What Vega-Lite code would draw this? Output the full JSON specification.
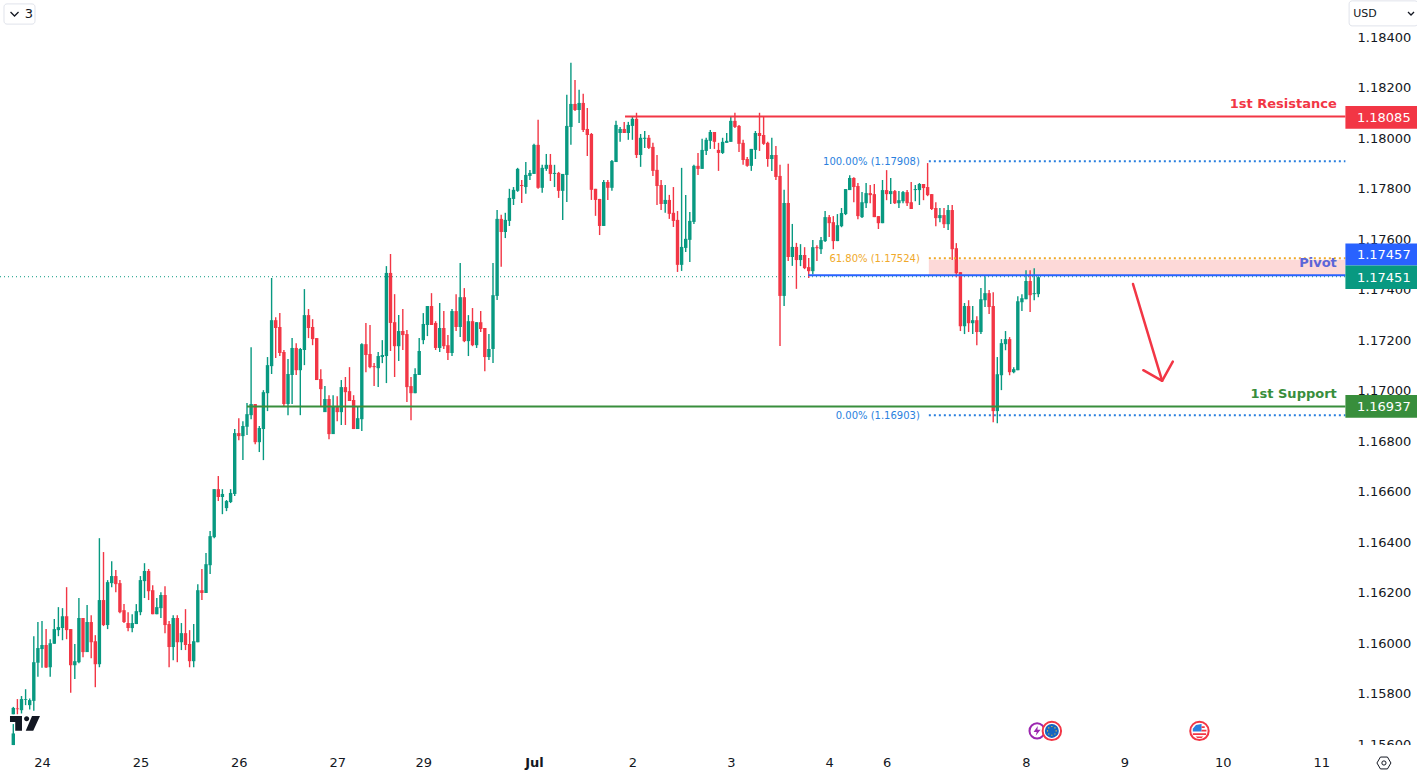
{
"$schema":"https://vega.github.io/schema/vega-lite/v6.json",
"description":"EUR/USD hourly candles with pivot, resistance, support and fibonacci levels",
"width":1345,"height":745,"padding":{"left":0,"top":0,"right":72,"bottom":34},"autosize":{"type":"none"},"background":"#ffffff",
"config":{"view":{"stroke":null},"axis":{"grid":false,"domain":false,"ticks":false,"title":null,"labelFont":"DejaVu Sans","labelFontSize":13,"labelColor":"#131722"}},
"datasets":{
"candles":[
{"t":0,"open":1.15597,"close":1.15643,"high":1.15680,"low":1.15597},
{"t":0,"open":1.15719,"close":1.15744,"high":1.15748,"low":1.15719},
{"t":1,"open":1.15742,"close":1.15739,"high":1.15779,"low":1.15719},
{"t":2,"open":1.15735,"close":1.15779,"high":1.15791,"low":1.15722},
{"t":3,"open":1.15776,"close":1.15779,"high":1.15818,"low":1.15755},
{"t":4,"open":1.15755,"close":1.15775,"high":1.15781,"low":1.15738},
{"t":5,"open":1.15772,"close":1.15925,"high":1.16028,"low":1.15733},
{"t":6,"open":1.15923,"close":1.15981,"high":1.16084,"low":1.15867},
{"t":7,"open":1.15977,"close":1.15993,"high":1.16088,"low":1.15903},
{"t":8,"open":1.15993,"close":1.15904,"high":1.16056,"low":1.15902},
{"t":9,"open":1.15905,"close":1.16000,"high":1.16016,"low":1.15867},
{"t":10,"open":1.15998,"close":1.16056,"high":1.16096,"low":1.15998},
{"t":11,"open":1.16052,"close":1.16064,"high":1.16143,"low":1.16028},
{"t":12,"open":1.16060,"close":1.16107,"high":1.16139,"low":1.16012},
{"t":13,"open":1.16107,"close":1.16052,"high":1.16222,"low":1.16016},
{"t":14,"open":1.16056,"close":1.15913,"high":1.16056,"low":1.15804},
{"t":15,"open":1.15913,"close":1.15929,"high":1.15997,"low":1.15858},
{"t":16,"open":1.15925,"close":1.16100,"high":1.16179,"low":1.15921},
{"t":17,"open":1.16100,"close":1.15965,"high":1.16100,"low":1.15945},
{"t":18,"open":1.15965,"close":1.16084,"high":1.16151,"low":1.15965},
{"t":19,"open":1.16084,"close":1.16004,"high":1.16111,"low":1.15941},
{"t":20,"open":1.16008,"close":1.15917,"high":1.16032,"low":1.15826},
{"t":21,"open":1.15917,"close":1.16171,"high":1.16416,"low":1.15905},
{"t":22,"open":1.16171,"close":1.16072,"high":1.16361,"low":1.16068},
{"t":23,"open":1.16072,"close":1.16242,"high":1.16250,"low":1.16056},
{"t":24,"open":1.16238,"close":1.16266,"high":1.16325,"low":1.16222},
{"t":25,"open":1.16266,"close":1.16234,"high":1.16290,"low":1.16202},
{"t":26,"open":1.16238,"close":1.16123,"high":1.16250,"low":1.16119},
{"t":27,"open":1.16131,"close":1.16084,"high":1.16155,"low":1.16080},
{"t":28,"open":1.16080,"close":1.16060,"high":1.16123,"low":1.16048},
{"t":29,"open":1.16060,"close":1.16080,"high":1.16115,"low":1.16044},
{"t":30,"open":1.16076,"close":1.16127,"high":1.16155,"low":1.16076},
{"t":31,"open":1.16123,"close":1.16250,"high":1.16266,"low":1.16111},
{"t":32,"open":1.16246,"close":1.16286,"high":1.16317,"low":1.16179},
{"t":33,"open":1.16286,"close":1.16206,"high":1.16294,"low":1.16171},
{"t":34,"open":1.16210,"close":1.16115,"high":1.16230,"low":1.16115},
{"t":35,"open":1.16115,"close":1.16143,"high":1.16179,"low":1.16115},
{"t":36,"open":1.16139,"close":1.16191,"high":1.16202,"low":1.16100},
{"t":37,"open":1.16191,"close":1.16072,"high":1.16226,"low":1.16040},
{"t":38,"open":1.16076,"close":1.15985,"high":1.16088,"low":1.15905},
{"t":39,"open":1.15985,"close":1.16100,"high":1.16111,"low":1.15933},
{"t":40,"open":1.16100,"close":1.16004,"high":1.16111,"low":1.15925},
{"t":41,"open":1.16004,"close":1.16040,"high":1.16080,"low":1.15973},
{"t":42,"open":1.16040,"close":1.15993,"high":1.16135,"low":1.15973},
{"t":43,"open":1.15997,"close":1.15929,"high":1.16052,"low":1.15905},
{"t":44,"open":1.15929,"close":1.16008,"high":1.16076,"low":1.15905},
{"t":45,"open":1.16004,"close":1.16210,"high":1.16234,"low":1.16004},
{"t":46,"open":1.16210,"close":1.16199,"high":1.16294,"low":1.16171},
{"t":47,"open":1.16199,"close":1.16313,"high":1.16357,"low":1.16199},
{"t":48,"open":1.16309,"close":1.16424,"high":1.16444,"low":1.16274},
{"t":49,"open":1.16420,"close":1.16610,"high":1.16610,"low":1.16416},
{"t":50,"open":1.16610,"close":1.16579,"high":1.16662,"low":1.16563},
{"t":51,"open":1.16579,"close":1.16591,"high":1.16610,"low":1.16511},
{"t":52,"open":1.16535,"close":1.16563,"high":1.16567,"low":1.16523},
{"t":53,"open":1.16559,"close":1.16595,"high":1.16610,"low":1.16555},
{"t":54,"open":1.16591,"close":1.16832,"high":1.16848,"low":1.16583},
{"t":55,"open":1.16832,"close":1.16820,"high":1.16891,"low":1.16804},
{"t":56,"open":1.16820,"close":1.16860,"high":1.16879,"low":1.16725},
{"t":57,"open":1.16857,"close":1.16907,"high":1.16951,"low":1.16824},
{"t":58,"open":1.16903,"close":1.16947,"high":1.17172,"low":1.16887},
{"t":59,"open":1.16947,"close":1.16796,"high":1.16947,"low":1.16788},
{"t":60,"open":1.16796,"close":1.16852,"high":1.16860,"low":1.16757},
{"t":61,"open":1.16848,"close":1.16994,"high":1.17002,"low":1.16725},
{"t":62,"open":1.16990,"close":1.17101,"high":1.17133,"low":1.16919},
{"t":63,"open":1.17097,"close":1.17279,"high":1.17446,"low":1.17066},
{"t":64,"open":1.17279,"close":1.17248,"high":1.17291,"low":1.17129},
{"t":65,"open":1.17252,"close":1.17149,"high":1.17307,"low":1.17137},
{"t":66,"open":1.17153,"close":1.16947,"high":1.17161,"low":1.16939},
{"t":67,"open":1.16947,"close":1.17066,"high":1.17125,"low":1.16903},
{"t":68,"open":1.17062,"close":1.17169,"high":1.17208,"low":1.16947},
{"t":69,"open":1.17169,"close":1.17081,"high":1.17188,"low":1.17062},
{"t":70,"open":1.17081,"close":1.17165,"high":1.17169,"low":1.16903},
{"t":71,"open":1.17161,"close":1.17299,"high":1.17402,"low":1.17101},
{"t":72,"open":1.17299,"close":1.17248,"high":1.17323,"low":1.17208},
{"t":73,"open":1.17252,"close":1.17204,"high":1.17283,"low":1.17180},
{"t":74,"open":1.17208,"close":1.17042,"high":1.17208,"low":1.17042},
{"t":75,"open":1.17046,"close":1.17006,"high":1.17085,"low":1.16939},
{"t":76,"open":1.16915,"close":1.16967,"high":1.17018,"low":1.16915},
{"t":77,"open":1.16967,"close":1.16828,"high":1.16982,"low":1.16808},
{"t":78,"open":1.16828,"close":1.16939,"high":1.16982,"low":1.16828},
{"t":79,"open":1.16935,"close":1.16915,"high":1.16978,"low":1.16879},
{"t":80,"open":1.16915,"close":1.17014,"high":1.17042,"low":1.16864},
{"t":81,"open":1.17014,"close":1.16994,"high":1.17054,"low":1.16864},
{"t":82,"open":1.16998,"close":1.16959,"high":1.17093,"low":1.16959},
{"t":83,"open":1.16963,"close":1.16848,"high":1.16982,"low":1.16848},
{"t":84,"open":1.16848,"close":1.16891,"high":1.16939,"low":1.16848},
{"t":85,"open":1.16887,"close":1.17184,"high":1.17188,"low":1.16840},
{"t":86,"open":1.17184,"close":1.17141,"high":1.17268,"low":1.17073},
{"t":87,"open":1.17145,"close":1.17093,"high":1.17260,"low":1.17089},
{"t":88,"open":1.17097,"close":1.17093,"high":1.17109,"low":1.17018},
{"t":89,"open":1.17089,"close":1.17137,"high":1.17153,"low":1.17014},
{"t":90,"open":1.17133,"close":1.17141,"high":1.17200,"low":1.17109},
{"t":91,"open":1.17137,"close":1.17466,"high":1.17493,"low":1.17030},
{"t":92,"open":1.17466,"close":1.17268,"high":1.17541,"low":1.17157},
{"t":93,"open":1.17271,"close":1.17176,"high":1.17382,"low":1.17054},
{"t":94,"open":1.17176,"close":1.17236,"high":1.17299,"low":1.17117},
{"t":95,"open":1.17236,"close":1.17220,"high":1.17323,"low":1.17161},
{"t":96,"open":1.17224,"close":1.17014,"high":1.17240,"low":1.16955},
{"t":97,"open":1.17018,"close":1.16990,"high":1.17054,"low":1.16883},
{"t":98,"open":1.16990,"close":1.17066,"high":1.17089,"low":1.16990},
{"t":99,"open":1.17062,"close":1.17157,"high":1.17208,"low":1.17062},
{"t":100,"open":1.17200,"close":1.17264,"high":1.17307,"low":1.17184},
{"t":101,"open":1.17260,"close":1.17335,"high":1.17335,"low":1.17216},
{"t":102,"open":1.17335,"close":1.17260,"high":1.17386,"low":1.17260},
{"t":103,"open":1.17268,"close":1.17169,"high":1.17275,"low":1.17161},
{"t":104,"open":1.17169,"close":1.17248,"high":1.17347,"low":1.17153},
{"t":105,"open":1.17248,"close":1.17176,"high":1.17315,"low":1.17165},
{"t":106,"open":1.17180,"close":1.17149,"high":1.17220,"low":1.17121},
{"t":107,"open":1.17149,"close":1.17315,"high":1.17323,"low":1.17137},
{"t":108,"open":1.17315,"close":1.17252,"high":1.17382,"low":1.17236},
{"t":109,"open":1.17252,"close":1.17370,"high":1.17505,"low":1.17212},
{"t":110,"open":1.17370,"close":1.17196,"high":1.17406,"low":1.17192},
{"t":111,"open":1.17196,"close":1.17275,"high":1.17299,"low":1.17137},
{"t":112,"open":1.17275,"close":1.17180,"high":1.17327,"low":1.17176},
{"t":113,"open":1.17180,"close":1.17271,"high":1.17271,"low":1.17169},
{"t":114,"open":1.17271,"close":1.17244,"high":1.17315,"low":1.17232},
{"t":115,"open":1.17248,"close":1.17133,"high":1.17248,"low":1.17077},
{"t":116,"open":1.17133,"close":1.17165,"high":1.17224,"low":1.17121},
{"t":117,"open":1.17165,"close":1.17378,"high":1.17505,"low":1.17109},
{"t":118,"open":1.17375,"close":1.17680,"high":1.17715,"low":1.17359},
{"t":119,"open":1.17680,"close":1.17628,"high":1.17696,"low":1.17490},
{"t":120,"open":1.17628,"close":1.17676,"high":1.17704,"low":1.17604},
{"t":121,"open":1.17672,"close":1.17763,"high":1.17799,"low":1.17652},
{"t":122,"open":1.17759,"close":1.17795,"high":1.17806,"low":1.17735},
{"t":123,"open":1.17791,"close":1.17878,"high":1.17882,"low":1.17787},
{"t":124,"open":1.17814,"close":1.17810,"high":1.17834,"low":1.17743},
{"t":125,"open":1.17806,"close":1.17854,"high":1.17905,"low":1.17779},
{"t":126,"open":1.17850,"close":1.17862,"high":1.17874,"low":1.17834},
{"t":127,"open":1.17858,"close":1.17973,"high":1.17977,"low":1.17858},
{"t":128,"open":1.17973,"close":1.17803,"high":1.18072,"low":1.17799},
{"t":129,"open":1.17803,"close":1.17882,"high":1.17894,"low":1.17783},
{"t":130,"open":1.17878,"close":1.17894,"high":1.17937,"low":1.17870},
{"t":131,"open":1.17894,"close":1.17858,"high":1.17937,"low":1.17830},
{"t":132,"open":1.17858,"close":1.17862,"high":1.17894,"low":1.17806},
{"t":133,"open":1.17862,"close":1.17791,"high":1.17866,"low":1.17763},
{"t":134,"open":1.17791,"close":1.17858,"high":1.17858,"low":1.17676},
{"t":135,"open":1.17854,"close":1.18048,"high":1.18171,"low":1.17747},
{"t":136,"open":1.18044,"close":1.18135,"high":1.18298,"low":1.17973},
{"t":137,"open":1.18135,"close":1.18111,"high":1.18230,"low":1.18107},
{"t":138,"open":1.18111,"close":1.18139,"high":1.18191,"low":1.18060},
{"t":139,"open":1.18139,"close":1.18032,"high":1.18175,"low":1.18024},
{"t":140,"open":1.18036,"close":1.18012,"high":1.18119,"low":1.17929},
{"t":141,"open":1.18016,"close":1.17795,"high":1.18020,"low":1.17755},
{"t":142,"open":1.17799,"close":1.17755,"high":1.17799,"low":1.17692},
{"t":143,"open":1.17759,"close":1.17652,"high":1.17759,"low":1.17616},
{"t":144,"open":1.17652,"close":1.17826,"high":1.17834,"low":1.17652},
{"t":145,"open":1.17826,"close":1.17803,"high":1.17834,"low":1.17755},
{"t":146,"open":1.17803,"close":1.17909,"high":1.17913,"low":1.17791},
{"t":147,"open":1.17905,"close":1.18052,"high":1.18068,"low":1.17905},
{"t":148,"open":1.18020,"close":1.18036,"high":1.18044,"low":1.17985},
{"t":149,"open":1.18036,"close":1.18020,"high":1.18064,"low":1.18020},
{"t":150,"open":1.18020,"close":1.18052,"high":1.18064,"low":1.17993},
{"t":151,"open":1.18048,"close":1.18076,"high":1.18084,"low":1.17993},
{"t":152,"open":1.18076,"close":1.17933,"high":1.18100,"low":1.17921},
{"t":153,"open":1.17933,"close":1.18001,"high":1.18016,"low":1.17886},
{"t":154,"open":1.17997,"close":1.18001,"high":1.18028,"low":1.17961},
{"t":155,"open":1.18001,"close":1.17961,"high":1.18012,"low":1.17957},
{"t":156,"open":1.17965,"close":1.17870,"high":1.17981,"low":1.17850},
{"t":157,"open":1.17874,"close":1.17810,"high":1.17933,"low":1.17735},
{"t":158,"open":1.17814,"close":1.17739,"high":1.17834,"low":1.17715},
{"t":159,"open":1.17739,"close":1.17755,"high":1.17814,"low":1.17704},
{"t":160,"open":1.17755,"close":1.17700,"high":1.17775,"low":1.17680},
{"t":161,"open":1.17704,"close":1.17672,"high":1.17806,"low":1.17648},
{"t":162,"open":1.17676,"close":1.17498,"high":1.17711,"low":1.17470},
{"t":163,"open":1.17498,"close":1.17569,"high":1.17882,"low":1.17474},
{"t":164,"open":1.17565,"close":1.17601,"high":1.17775,"low":1.17549},
{"t":165,"open":1.17597,"close":1.17672,"high":1.17707,"low":1.17509},
{"t":166,"open":1.17668,"close":1.17890,"high":1.17894,"low":1.17660},
{"t":167,"open":1.17890,"close":1.17878,"high":1.17941,"low":1.17854},
{"t":168,"open":1.17878,"close":1.17953,"high":1.17997,"low":1.17878},
{"t":169,"open":1.17949,"close":1.17993,"high":1.18001,"low":1.17933},
{"t":170,"open":1.17989,"close":1.18024,"high":1.18032,"low":1.17957},
{"t":171,"open":1.18024,"close":1.17985,"high":1.18024,"low":1.17957},
{"t":172,"open":1.17953,"close":1.17941,"high":1.17981,"low":1.17870},
{"t":173,"open":1.17941,"close":1.17985,"high":1.18001,"low":1.17937},
{"t":174,"open":1.17981,"close":1.17989,"high":1.18020,"low":1.17981},
{"t":175,"open":1.17985,"close":1.18068,"high":1.18084,"low":1.17985},
{"t":176,"open":1.18068,"close":1.18044,"high":1.18100,"low":1.18040},
{"t":177,"open":1.18048,"close":1.17977,"high":1.18052,"low":1.17945},
{"t":178,"open":1.17981,"close":1.17913,"high":1.17993,"low":1.17894},
{"t":179,"open":1.17917,"close":1.17890,"high":1.17925,"low":1.17886},
{"t":180,"open":1.17890,"close":1.17957,"high":1.17957,"low":1.17870},
{"t":181,"open":1.17953,"close":1.18020,"high":1.18028,"low":1.17917},
{"t":182,"open":1.18020,"close":1.18008,"high":1.18100,"low":1.17949},
{"t":183,"open":1.18012,"close":1.17977,"high":1.18084,"low":1.17973},
{"t":184,"open":1.17981,"close":1.17917,"high":1.17985,"low":1.17886},
{"t":185,"open":1.17917,"close":1.17933,"high":1.18001,"low":1.17870},
{"t":186,"open":1.17933,"close":1.17846,"high":1.17969,"low":1.17834},
{"t":187,"open":1.17850,"close":1.17375,"high":1.17894,"low":1.17177},
{"t":188,"open":1.17375,"close":1.17743,"high":1.17795,"low":1.17335},
{"t":189,"open":1.17743,"close":1.17529,"high":1.17898,"low":1.17513},
{"t":190,"open":1.17529,"close":1.17569,"high":1.17660,"low":1.17494},
{"t":191,"open":1.17569,"close":1.17517,"high":1.17585,"low":1.17403},
{"t":192,"open":1.17517,"close":1.17537,"high":1.17580,"low":1.17493},
{"t":193,"open":1.17537,"close":1.17485,"high":1.17568,"low":1.17481},
{"t":194,"open":1.17489,"close":1.17473,"high":1.17525,"low":1.17446},
{"t":195,"open":1.17473,"close":1.17568,"high":1.17596,"low":1.17461},
{"t":196,"open":1.17568,"close":1.17564,"high":1.17576,"low":1.17513},
{"t":197,"open":1.17560,"close":1.17596,"high":1.17608,"low":1.17541},
{"t":198,"open":1.17592,"close":1.17687,"high":1.17711,"low":1.17588},
{"t":199,"open":1.17687,"close":1.17663,"high":1.17695,"low":1.17608},
{"t":200,"open":1.17667,"close":1.17592,"high":1.17691,"low":1.17560},
{"t":201,"open":1.17592,"close":1.17655,"high":1.17699,"low":1.17592},
{"t":202,"open":1.17651,"close":1.17703,"high":1.17723,"low":1.17647},
{"t":203,"open":1.17699,"close":1.17798,"high":1.17798,"low":1.17695},
{"t":204,"open":1.17794,"close":1.17842,"high":1.17853,"low":1.17794},
{"t":205,"open":1.17842,"close":1.17806,"high":1.17845,"low":1.17746},
{"t":206,"open":1.17810,"close":1.17691,"high":1.17822,"low":1.17679},
{"t":207,"open":1.17687,"close":1.17746,"high":1.17786,"low":1.17683},
{"t":208,"open":1.17742,"close":1.17782,"high":1.17822,"low":1.17723},
{"t":209,"open":1.17782,"close":1.17774,"high":1.17814,"low":1.17742},
{"t":210,"open":1.17778,"close":1.17687,"high":1.17818,"low":1.17687},
{"t":211,"open":1.17691,"close":1.17663,"high":1.17691,"low":1.17640},
{"t":212,"open":1.17663,"close":1.17794,"high":1.17834,"low":1.17663},
{"t":213,"open":1.17794,"close":1.17778,"high":1.17873,"low":1.17754},
{"t":214,"open":1.17778,"close":1.17790,"high":1.17842,"low":1.17739},
{"t":215,"open":1.17790,"close":1.17742,"high":1.17794,"low":1.17739},
{"t":216,"open":1.17742,"close":1.17754,"high":1.17790,"low":1.17723},
{"t":217,"open":1.17750,"close":1.17786,"high":1.17790,"low":1.17742},
{"t":218,"open":1.17786,"close":1.17742,"high":1.17794,"low":1.17731},
{"t":219,"open":1.17746,"close":1.17719,"high":1.17826,"low":1.17719},
{"t":220,"open":1.17794,"close":1.17798,"high":1.17814,"low":1.17750},
{"t":221,"open":1.17794,"close":1.17818,"high":1.17822,"low":1.17735},
{"t":222,"open":1.17818,"close":1.17802,"high":1.17818,"low":1.17754},
{"t":223,"open":1.17806,"close":1.17774,"high":1.17901,"low":1.17770},
{"t":224,"open":1.17778,"close":1.17719,"high":1.17778,"low":1.17715},
{"t":225,"open":1.17723,"close":1.17683,"high":1.17746,"low":1.17651},
{"t":226,"open":1.17683,"close":1.17695,"high":1.17723,"low":1.17667},
{"t":227,"open":1.17695,"close":1.17659,"high":1.17723,"low":1.17644},
{"t":228,"open":1.17659,"close":1.17715,"high":1.17735,"low":1.17636},
{"t":229,"open":1.17715,"close":1.17560,"high":1.17735,"low":1.17517},
{"t":230,"open":1.17564,"close":1.17465,"high":1.17584,"low":1.17449},
{"t":231,"open":1.17469,"close":1.17255,"high":1.17469,"low":1.17236},
{"t":232,"open":1.17255,"close":1.17335,"high":1.17347,"low":1.17224},
{"t":233,"open":1.17335,"close":1.17267,"high":1.17358,"low":1.17232},
{"t":234,"open":1.17267,"close":1.17279,"high":1.17335,"low":1.17224},
{"t":235,"open":1.17279,"close":1.17232,"high":1.17295,"low":1.17180},
{"t":236,"open":1.17232,"close":1.17362,"high":1.17406,"low":1.17224},
{"t":237,"open":1.17358,"close":1.17386,"high":1.17453,"low":1.17331},
{"t":238,"open":1.17386,"close":1.17331,"high":1.17398,"low":1.17303},
{"t":239,"open":1.17335,"close":1.16919,"high":1.17390,"low":1.16875},
{"t":240,"open":1.16919,"close":1.17065,"high":1.17133,"low":1.16871},
{"t":241,"open":1.17061,"close":1.17188,"high":1.17204,"low":1.17002},
{"t":242,"open":1.17184,"close":1.17204,"high":1.17236,"low":1.17160},
{"t":243,"open":1.17204,"close":1.17073,"high":1.17212,"low":1.17061},
{"t":244,"open":1.17073,"close":1.17085,"high":1.17093,"low":1.17069},
{"t":245,"open":1.17081,"close":1.17354,"high":1.17374,"low":1.17081},
{"t":246,"open":1.17350,"close":1.17366,"high":1.17382,"low":1.17315},
{"t":247,"open":1.17362,"close":1.17434,"high":1.17477,"low":1.17362},
{"t":248,"open":1.17434,"close":1.17378,"high":1.17477,"low":1.17311},
{"t":249,"open":1.17382,"close":1.17386,"high":1.17485,"low":1.17358},
{"t":250,"open":1.17382,"close":1.17449,"high":1.17453,"low":1.17370}
],
"levels":[
{"level":"1st Resistance","price":1.18085,"t":149.2,"end":324.9},
{"level":"1st Support","price":1.16937,"t":57,"end":324.9},
{"level":"Pivot","price":1.17457,"t":193.9,"end":324.9}
],
"fibs":[
{"level":"100.00%","price":1.17908,"t":223.3,"end":324.9,"label":"100.00% (1.17908)"},
{"level":"61.80%","price":1.17524,"t":223.3,"end":324.9,"label":"61.80% (1.17524)"},
{"level":"0.00%","price":1.16903,"t":223.3,"end":324.9,"label":"0.00% (1.16903)"}
],
"names":[
{"level":"1st Resistance","price":1.18135,"t":322.8},
{"level":"Pivot","price":1.17505,"t":322.8},
{"level":"1st Support","price":1.16987,"t":322.8}
],
"badges":[
{"level":"1st Resistance","t":324.9,"end":342.6,"top":1.18127,"price":1.18037,"mid":1.18082,"value":"1.18085","textT":327.7},
{"level":"Pivot","t":324.9,"end":342.6,"top":1.17583,"price":1.17495,"mid":1.17539,"value":"1.17457","textT":327.7},
{"level":"Last","t":324.9,"end":342.6,"top":1.17495,"price":1.17402,"mid":1.17449,"value":"1.17451","textT":327.7},
{"level":"1st Support","t":324.9,"end":342.6,"top":1.16983,"price":1.16893,"mid":1.16938,"value":"1.16937","textT":327.7}
],
"arrow":[
{"part":"shaft","n":0,"t":273.1,"price":1.17422},
{"part":"shaft","n":1,"t":280.2,"price":1.17039},
{"part":"head","n":0,"t":275.6,"price":1.17081},
{"part":"head","n":1,"t":280.2,"price":1.17039},
{"part":"head","n":2,"t":282.8,"price":1.17115}
]
},
"encoding":{
"x":{"field":"t","type":"quantitative","scale":{"domain":[-3.244,324.8],"nice":false,"zero":false,"padding":0},
"axis":{"values":[7,31,55,79,100,127,151,175,199,213,247,271,295,319],"labelExpr":"{7:'24',31:'25',55:'26',79:'27',100:'29',127:'Jul',151:'2',175:'3',199:'4',213:'6',247:'8',271:'9',295:'10',319:'11'}[datum.value]","labelOverlap":false,"labelFlush":false,"labelPadding":11,"labelFontWeight":{"condition":{"test":"datum.value==127","value":"bold"},"value":"normal"}}},
"y":{"field":"price","type":"quantitative","scale":{"domain":[1.155972,1.185465],"nice":false,"zero":false},
"axis":{"orient":"right","values":[1.156,1.158,1.16,1.162,1.164,1.166,1.168,1.17,1.172,1.174,1.176,1.178,1.18,1.182,1.184],"format":".5f","labelOverlap":false,"labelFlush":false,"labelPadding":12}}
},
"layer":[
{"data":{"values":[{"t":223.3,"end":324.9,"price":1.17457,"top":1.17518}]},
"mark":{"type":"rect","color":"#fdd9d8"},
"encoding":{"x2":{"field":"end"},"y2":{"field":"top"}}},
{"data":{"values":[{"t":-3.244,"end":324.9,"price":1.17451}]},
"mark":{"type":"rule","color":"#089981","strokeWidth":1,"strokeDash":[1,3]},
"encoding":{"x2":{"field":"end"}}},
{"data":{"name":"candles"},
"mark":{"type":"rule","strokeWidth":1.4},
"encoding":{"y":{"field":"low","type":"quantitative"},"y2":{"field":"high"},
"color":{"condition":{"test":"datum.close>=datum.open","value":"#089981"},"value":"#f23645"}}},
{"data":{"name":"candles"},
"mark":{"type":"bar","size":3.4},
"encoding":{"y":{"field":"open","type":"quantitative"},"y2":{"field":"close"},
"color":{"condition":{"test":"datum.close>=datum.open","value":"#089981"},"value":"#f23645"}}},
{"data":{"name":"fibs"},
"mark":{"type":"rule","strokeWidth":2,"strokeDash":[2,3]},
"encoding":{"x2":{"field":"end"},"color":{"field":"level","type":"nominal","legend":null,"scale":{"domain":["100.00%","61.80%","0.00%","1st Resistance","1st Support","Pivot","Last"],"range":["#2a7fde","#f0a92a","#2a7fde","#f23645","#388e3c","#2962ff","#089981"]}}}},
{"data":{"name":"levels"},
"mark":{"type":"rule","strokeWidth":2},
"encoding":{"x2":{"field":"end"},"color":{"field":"level","type":"nominal","legend":null}}},
{"data":{"name":"arrow"},
"mark":{"type":"line","color":"#f23645","strokeWidth":2.5,"strokeCap":"round","strokeJoin":"round"},
"encoding":{"detail":{"field":"part"},"order":{"field":"n"}}},
{"data":{"name":"fibs"},
"mark":{"type":"text","align":"right","baseline":"middle","font":"DejaVu Sans","fontSize":10,"dx":-9,"dy":1},
"encoding":{"text":{"field":"label"},"color":{"field":"level","type":"nominal","legend":null}}},
{"data":{"name":"names"},
"mark":{"type":"text","align":"right","baseline":"middle","font":"DejaVu Sans","fontSize":13,"fontWeight":"bold"},
"encoding":{"text":{"field":"level"},"color":{"condition":{"test":"datum.level=='Pivot'","value":"#5b66d8"},"field":"level","type":"nominal","legend":null}}},
{"data":{"values":[{"t":324.9,"end":342.6,"price":1.15463,"top":1.155972}]},
"mark":{"type":"rect","color":"#ffffff"},
"encoding":{"x2":{"field":"end"},"y2":{"field":"top"}}},
{"data":{"name":"badges"},
"mark":{"type":"rect"},
"encoding":{"x2":{"field":"end"},"y2":{"field":"top"},"color":{"field":"level","type":"nominal","legend":null}}},
{"data":{"name":"badges"},
"mark":{"type":"text","align":"left","baseline":"middle","font":"DejaVu Sans","fontSize":13,"color":"#ffffff","dy":1},
"encoding":{"x":{"field":"textT","type":"quantitative"},"y":{"field":"mid","type":"quantitative"},"text":{"field":"value"}}},
{"data":{"values":[{"t":2.85,"price":1.15682}]},
"mark":{"type":"point","shape":"M-1 -.5H-.2V.48H-.65V-.1H-1ZM.47 -.5H1L.55 .48H.05ZM-.06 -.32A.17 .17 0 1 0 .28 -.32A.17 .17 0 1 0 -.06 -.32Z","size":900,"filled":true,"color":"#131722","opacity":1}},
{"data":{"values":[{"t":-2.27,"end":5.29,"price":1.18451,"top":1.18531}]},
"mark":{"type":"rect","fill":"#ffffff","stroke":"#e0e3eb","cornerRadius":3},
"encoding":{"x2":{"field":"end"},"y2":{"field":"top"}}},
{"data":{"values":[{"t":0.3,"price":1.18491}]},
"mark":{"type":"point","shape":"M-1 -.5L0 .5L1 -.5","size":64,"filled":false,"color":"#131722","strokeWidth":1.3,"opacity":1}},
{"data":{"values":[{"t":2.8,"price":1.18491,"text":"3"}]},
"mark":{"type":"text","align":"left","baseline":"middle","font":"DejaVu Sans","fontSize":13,"color":"#131722"},
"encoding":{"text":{"field":"text"}}},
{"data":{"values":[{"t":325.8,"end":342.6,"price":1.18444,"top":1.18543}]},
"mark":{"type":"rect","fill":"#ffffff","stroke":"#e0e3eb","cornerRadius":3},
"encoding":{"x2":{"field":"end"},"y2":{"field":"top"}}},
{"data":{"values":[{"t":326.8,"price":1.18493,"text":"USD"}]},
"mark":{"type":"text","align":"left","baseline":"middle","font":"DejaVu Sans","fontSize":11,"color":"#131722"},
"encoding":{"text":{"field":"text"}}},
{"data":{"values":[{"t":340.9,"price":1.18493}]},
"mark":{"type":"point","shape":"M-1 -.5L0 .5L1 -.5","size":36,"filled":false,"color":"#131722","strokeWidth":1.3,"opacity":1}},
{"data":{"values":[{"t":334.3,"price":1.15526}]},
"mark":{"type":"point","shape":"M-1 0L-.5 -.85H.5L1 0L.5 .85H-.5Z","size":196,"filled":false,"color":"#131722","strokeWidth":1,"opacity":1}},
{"data":{"values":[{"t":334.3,"price":1.15526}]},
"mark":{"type":"point","shape":"circle","size":18,"filled":false,"color":"#131722","strokeWidth":1,"opacity":1}},
{"data":{"values":[{"t":249.7,"price":1.15653}]},
"mark":{"type":"point","shape":"circle","size":230,"fill":"#ffffff","stroke":"#9c27b0","strokeWidth":2,"opacity":1}},
{"data":{"values":[{"t":249.7,"price":1.15653}]},
"mark":{"type":"point","shape":"M.1 -.7L-.5 .15H-.05L-.2 .7L.5 -.15H.05Z","size":196,"filled":true,"color":"#9c27b0","opacity":1}},
{"data":{"values":[{"t":253.3,"price":1.15653},{"t":289.3,"price":1.15653}]},
"mark":{"type":"point","shape":"circle","size":340,"fill":"#ffffff","stroke":"#f23645","strokeWidth":2,"opacity":1}},
{"data":{"values":[{"t":253.3,"price":1.15653}]},
"mark":{"type":"point","shape":"circle","size":196,"filled":true,"color":"#1565c0","opacity":1}},
{"data":{"values":[{"t":253.3,"price":1.15653}]},
"mark":{"type":"point","shape":"M.54 -.08h.16v.16h-.16ZM.36 .36h.16v.16h-.16ZM-.08 .54h.16v.16h-.16ZM-.52 .36h.16v.16h-.16ZM-.7 -.08h.16v.16h-.16ZM-.52 -.52h.16v.16h-.16ZM-.08 -.7h.16v.16h-.16ZM.36 -.52h.16v.16h-.16Z","size":196,"filled":true,"color":"#f9c22e","opacity":1}},
{"data":{"values":[{"t":289.3,"price":1.15653}]},
"mark":{"type":"point","shape":"M-.95 .1V-.3L-.5 -.85L.3 -1V.1Z","size":196,"filled":true,"color":"#2a7fde","opacity":1}},
{"data":{"values":[{"t":289.3,"price":1.15653}]},
"mark":{"type":"point","shape":"M.3 -.65H.75V-.4H.3ZM.3 -.15H1V.1H.3ZM-.95 .35H.95V.6H-.95ZM-.55 .8H.55L.3 1H-.3Z","size":196,"filled":true,"color":"#f23645","opacity":1}}
]
}
